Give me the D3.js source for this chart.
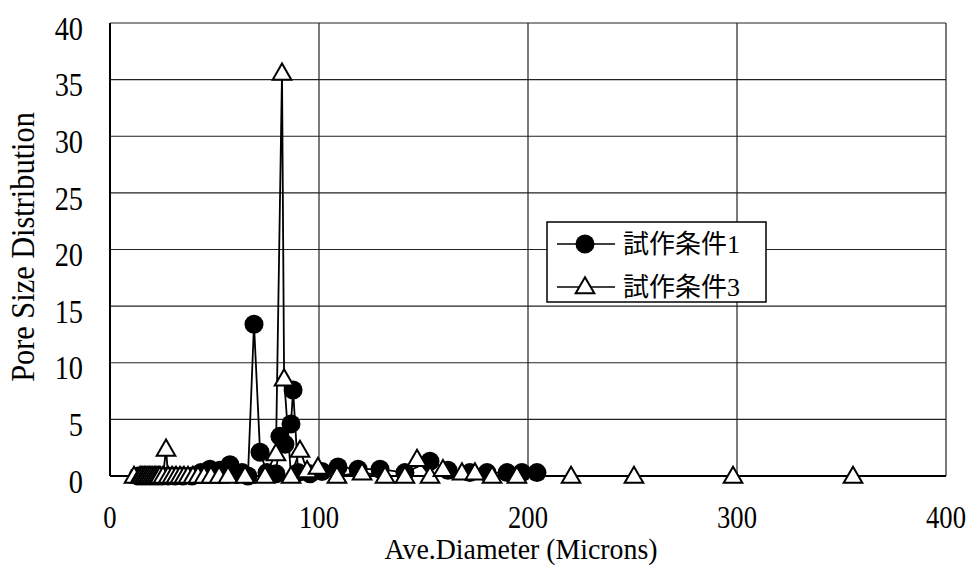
<!DOCTYPE html>
<html><head><meta charset="utf-8">
<script src="https://cdn.jsdelivr.net/npm/d3@7"></script>
<style>
html,body{margin:0;padding:0;background:#fff;}
text{font-family:"Liberation Serif","Noto Sans CJK JP",serif;fill:#000;}
</style></head>
<body><svg id="c" width="972" height="570"></svg>
<script>
// Series 1 (circles): 試作条件1
const s1X = [13.4,15.3,17.2,19.1,21.1,23.0,24.9,27.8,31.1,34.9,39.2,43.5,47.8,52.6,57.4,63.2,66.0,68.9,71.8,75.1,79.4,81.3,83.7,86.6,87.6,90.0,95.7,101.4,109.1,118.7,129.2,141.1,153.1,161.7,172.2,180.4,190.0,197.1,204.3];
const s1Y = [0,0,0,0,0,0,0,0,0,0,0,0.3,0.6,0.5,1.0,0.3,0,13.4,2.1,0.3,0.2,3.5,2.8,4.6,7.6,0.3,0.2,0.4,0.8,0.6,0.6,0.3,1.3,0.5,0.3,0.3,0.3,0.3,0.3];
// Series 3 (triangles): 試作条件3
const s3X = [11.5,14.4,15.3,16.3,17.2,18.2,19.1,20.1,21.1,22.0,23.0,23.9,25.4,26.8,27.8,29.7,31.6,33.5,35.4,37.3,39.7,42.1,45.0,48.3,52.2,56.5,64.6,74.2,79.4,82.3,83.3,86.6,90.9,94.3,99.5,108.6,120.6,131.6,141.1,146.9,153.1,159.3,168.4,174.6,182.8,194.7,220.6,250.7,298.1,355.5];
const s3Y = [0,0,0,0,0,0,0,0,0,0,0,0,0,2.4,0,0,0,0,0,0,0,0,0,0,0,0,0,0,2.0,35.6,8.6,0,2.3,0.5,0.8,0,0.3,0,0,1.5,0,0.6,0.3,0.3,0,0,0,0,0,0];
const seriesNames = ["試作条件1","試作条件3"];
const xTicks = [0,100,200,300,400];
const yTicks = [0,5,10,15,20,25,30,35,40];
const xTitle = "Ave.Diameter (Microns)";
const yTitle = "Pore Size Distribution";

const svg = d3.select("#c");
const L=110, R=946, T=23, B=476;
const x = d3.scaleLinear().domain([0,400]).range([L,R]);
const y = d3.scaleLinear().domain([0,40]).range([B,T]);

// gridlines
const g = svg.append("g");
g.selectAll(".hg").data(yTicks).enter().append("line")
  .attr("x1",L).attr("x2",R).attr("y1",d=>y(d)).attr("y2",d=>y(d))
  .attr("stroke","#222").attr("stroke-width",1.2);
g.selectAll(".vg").data(xTicks).enter().append("line")
  .attr("y1",T).attr("y2",B).attr("x1",d=>x(d)).attr("x2",d=>x(d))
  .attr("stroke","#222").attr("stroke-width",1.2);
// axes lines
svg.append("line").attr("x1",L).attr("x2",L).attr("y1",T).attr("y2",B).attr("stroke","#000").attr("stroke-width",2);
svg.append("line").attr("x1",L).attr("x2",R).attr("y1",B).attr("y2",B).attr("stroke","#000").attr("stroke-width",2);

const SX = 0.86;
// tick labels
svg.selectAll(".yl").data(yTicks).enter().append("text")
  .attr("transform",d=>`translate(83,${y(d)+6}) scale(${SX},1)`)
  .attr("text-anchor","end").attr("dominant-baseline","central")
  .attr("font-size",33).text(d=>d);
svg.selectAll(".xl").data(xTicks).enter().append("text")
  .attr("transform",d=>`translate(${x(d)},517) scale(${SX},1)`)
  .attr("text-anchor","middle").attr("dominant-baseline","central")
  .attr("font-size",31).text(d=>d);
svg.append("text").attr("transform",`translate(521,549) scale(0.96,1)`)
  .attr("text-anchor","middle").attr("dominant-baseline","central")
  .attr("font-size",29).text(xTitle);
svg.append("text").attr("transform","translate(23,247) rotate(-90) scale(0.92,1)").attr("text-anchor","middle").attr("dominant-baseline","central")
  .attr("font-size",33).text(yTitle);

const d1 = s1X.map((v,i)=>[v,s1Y[i]]);
const d3s = s3X.map((v,i)=>[v,s3Y[i]]);
const line = d3.line().x(d=>x(d[0])).y(d=>y(d[1]));
const tri = d3.symbol().type(d3.symbolTriangle).size(150);

const plot = svg.append("g");
plot.append("path").attr("d",line(d1)).attr("fill","none").attr("stroke","#000").attr("stroke-width",1.8);
plot.selectAll(".c").data(d1).enter().append("circle")
  .attr("cx",d=>x(d[0])).attr("cy",d=>y(d[1])).attr("r",9.5).attr("fill","#000");
plot.append("path").attr("d",line(d3s)).attr("fill","none").attr("stroke","#000").attr("stroke-width",1.8);
plot.selectAll(".t").data(d3s).enter().append("path")
  .attr("d",tri).attr("transform",d=>`translate(${x(d[0])},${y(d[1])+1.5})`)
  .attr("fill","#fff").attr("stroke","#000").attr("stroke-width",2);

// legend
const lg = svg.append("g");
lg.append("rect").attr("x",547).attr("y",222).attr("width",219).attr("height",80)
  .attr("fill","#fff").attr("stroke","#000").attr("stroke-width",1.5);
const rows=[244,287];
lg.selectAll(".ll").data(rows).enter().append("line")
  .attr("x1",557).attr("x2",615).attr("y1",d=>d).attr("y2",d=>d).attr("stroke","#000").attr("stroke-width",1.5);
lg.append("circle").attr("cx",585).attr("cy",rows[0]).attr("r",9.5).attr("fill","#000");
lg.append("path").attr("d",tri).attr("transform",`translate(585,${rows[1]+1})`).attr("fill","#fff").attr("stroke","#000").attr("stroke-width",2);
lg.selectAll(".lt").data(seriesNames).enter().append("text")
  .attr("x",623).attr("y",(d,i)=>rows[i]).attr("dominant-baseline","central")
  .attr("font-size",26).text(d=>d);
</script></body></html>
